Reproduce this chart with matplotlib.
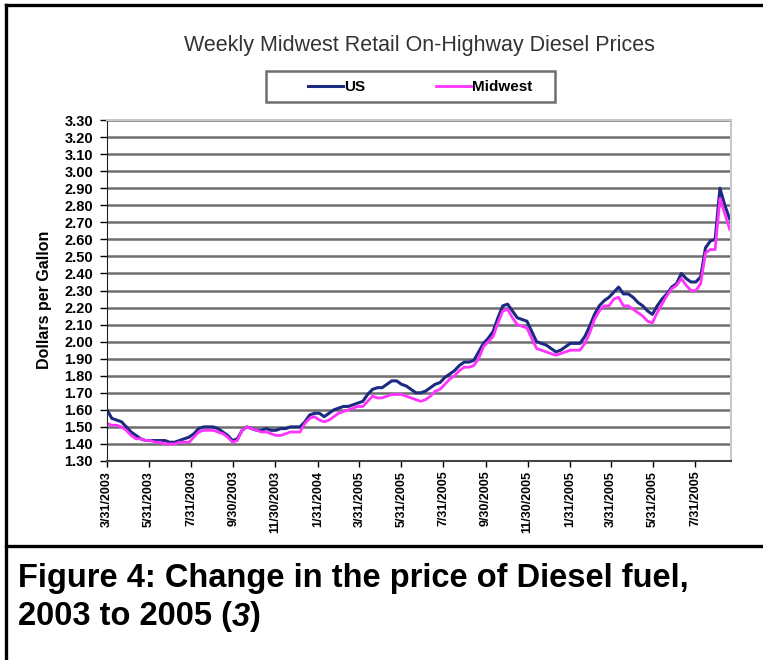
import matplotlib
matplotlib.use('Agg')
import matplotlib.pyplot as plt
import pandas as pd
from matplotlib.patches import Rectangle
from matplotlib.lines import Line2D

plt.rcParams['font.family'] = ['Liberation Sans', 'DejaVu Sans']

# weekly prices starting 3/31/2003
us_prices = [
    1.60, 1.55, 1.54, 1.53, 1.50, 1.47, 1.45, 1.43, 1.42, 1.42,
    1.42, 1.42, 1.42, 1.41, 1.41, 1.42, 1.43, 1.44, 1.46, 1.49,
    1.50, 1.50, 1.50, 1.49, 1.47, 1.45, 1.42, 1.43, 1.48, 1.50,
    1.49, 1.48, 1.48, 1.49, 1.48, 1.48, 1.49, 1.49, 1.50, 1.50,
    1.50, 1.53, 1.57, 1.58, 1.58, 1.56, 1.58, 1.60, 1.61, 1.62,
    1.62, 1.63, 1.64, 1.65, 1.69, 1.72, 1.73, 1.73, 1.75, 1.77,
    1.77, 1.75, 1.74, 1.72, 1.70, 1.70, 1.71, 1.73, 1.75, 1.76,
    1.79, 1.81, 1.83, 1.86, 1.88, 1.88, 1.89, 1.94, 1.99, 2.02,
    2.06, 2.14, 2.21, 2.22, 2.18, 2.14, 2.13, 2.12, 2.06, 2.00,
    1.99, 1.98, 1.96, 1.94, 1.95, 1.97, 1.99, 1.99, 1.99, 2.03,
    2.09, 2.16, 2.21, 2.24, 2.26, 2.29, 2.32, 2.28, 2.28, 2.26,
    2.23, 2.21, 2.18, 2.16, 2.21, 2.25, 2.28, 2.32, 2.34, 2.40,
    2.37, 2.35, 2.35, 2.38, 2.55, 2.59, 2.60, 2.90, 2.80, 2.72,
]
midwest_prices = [
    1.52, 1.51, 1.51, 1.50, 1.48, 1.45, 1.43, 1.43, 1.42, 1.42,
    1.41, 1.41, 1.40, 1.40, 1.40, 1.41, 1.41, 1.41, 1.44, 1.47,
    1.48, 1.48, 1.48, 1.47, 1.46, 1.44, 1.41, 1.42, 1.48, 1.50,
    1.49, 1.48, 1.47, 1.47, 1.46, 1.45, 1.45, 1.46, 1.47, 1.47,
    1.47, 1.52, 1.55, 1.56, 1.54, 1.53, 1.54, 1.56, 1.58, 1.59,
    1.60, 1.61, 1.62, 1.62, 1.65, 1.68, 1.67, 1.67, 1.68, 1.69,
    1.69, 1.69, 1.68, 1.67, 1.66, 1.65, 1.66, 1.68, 1.71, 1.72,
    1.75, 1.78, 1.80, 1.83, 1.85, 1.85, 1.86, 1.90, 1.97, 2.00,
    2.03, 2.11, 2.18, 2.19, 2.14, 2.10, 2.09, 2.08, 2.02, 1.96,
    1.95, 1.94, 1.93, 1.92, 1.93, 1.94, 1.95, 1.95, 1.95, 1.99,
    2.05, 2.13, 2.18, 2.21, 2.21, 2.25, 2.26, 2.21, 2.21, 2.19,
    2.17, 2.15, 2.12, 2.11, 2.17, 2.22, 2.27, 2.31, 2.33, 2.37,
    2.33, 2.30, 2.30, 2.34, 2.52, 2.54, 2.54, 2.84, 2.75, 2.66,
]

tick_dates = ['2003-03-31', '2003-05-31', '2003-07-31', '2003-09-30', '2003-11-30',
              '2004-01-31', '2004-03-31', '2004-05-31', '2004-07-31', '2004-09-30',
              '2004-11-30', '2005-01-31', '2005-03-31', '2005-05-31', '2005-07-31']
tick_labels = ['3/31/2003', '5/31/2003', '7/31/2003', '9/30/2003', '11/30/2003',
               '1/31/2004', '3/31/2005', '5/31/2005', '7/31/2005', '9/30/2005',
               '11/30/2005', '1/31/2005', '3/31/2005', '5/31/2005', '7/31/2005']
y_ticks = [1.30, 1.40, 1.50, 1.60, 1.70, 1.80, 1.90, 2.00, 2.10, 2.20, 2.30,
           2.40, 2.50, 2.60, 2.70, 2.80, 2.90, 3.00, 3.10, 3.20, 3.30]

W, H = 763, 660
fig = plt.figure(figsize=(W / 100, H / 100), dpi=100)
ax = fig.add_axes([107 / W, 1 - 461 / H, (731 - 107) / W, (461 - 120) / H])

week_dates = pd.date_range('2003-03-31', periods=len(us_prices), freq='7D')
ax.plot(week_dates, us_prices, color='#1c2a80', lw=2.2, label='US')
ax.plot(week_dates, midwest_prices, color='#ff33ff', lw=2.0, label='Midwest')

ax.set_ylim(1.30, 3.30)
ax.set_yticks(y_ticks)
ax.set_yticklabels([f'{v:.2f}' for v in y_ticks], fontsize=10.5, fontweight='bold')
ax.set_xlim(week_dates[0], week_dates[-1] + pd.Timedelta(days=2))
ax.set_xticks(pd.to_datetime(tick_dates))
ax.set_xticklabels(tick_labels, rotation=90, fontsize=9, fontweight='bold')
ax.yaxis.grid(True, color='#6e6e6e', lw=1.8)
ax.set_axisbelow(True)
ax.tick_params(axis='y', direction='out', length=5, width=1, pad=5)
ax.tick_params(axis='x', direction='out', length=4, width=1, pad=3)
ax.spines['left'].set_color('#222222')
ax.spines['bottom'].set_color('#444444')
ax.spines['bottom'].set_linewidth(1.5)
for s in ['top', 'right']:
    ax.spines[s].set_color('#c8c8c8')
    ax.spines[s].set_linewidth(1.5)

fig.text(45 / W, 1 - 300 / H, 'Dollars per Gallon', rotation=90, fontsize=11.5,
         fontweight='bold', ha='center', va='center')
fig.text(419 / W, 1 - 45 / H, 'Weekly Midwest Retail On-Highway Diesel Prices',
         fontsize=15.5, color='#333333', ha='center', va='center')

# legend box
fig.patches.append(Rectangle((266 / W, 1 - 102 / H), 289 / W, 31 / H,
                             transform=fig.transFigure, fill=False,
                             edgecolor='#6e6e6e', lw=1.8))
handles = [Line2D([], [], color='#1c2a80', lw=2.2), Line2D([], [], color='#ff33ff', lw=2.0)]
fig.legend(handles, ['US', 'Midwest'], loc='center left',
           bbox_to_anchor=(294 / W, 1 - 87 / H), ncol=2, frameon=False,
           handlelength=2.3, handletextpad=0.1, columnspacing=4.6,
           prop={'weight': 'bold', 'size': 11})

# outer frame and separator
for xs, ys in [([6, 6], [5, 660]), ([6, 763], [5, 5]), ([6, 763], [546, 546])]:
    fig.add_artist(Line2D([x / W for x in xs], [1 - y / H for y in ys],
                          transform=fig.transFigure, color='black', lw=2.4))

# caption
cap_size = 23.5
fig.text(18 / W, 1 - 578 / H, 'Figure 4: Change in the price of Diesel fuel,',
         fontsize=cap_size, fontweight='bold', va='center')
t1 = fig.text(18 / W, 1 - 617 / H, '2003 to 2005 (', fontsize=cap_size,
              fontweight='bold', va='center')
fig.canvas.draw()
r = fig.canvas.get_renderer()
x1 = t1.get_window_extent(r).x1 / W
t2 = fig.text(x1, 1 - 617 / H, '3', fontsize=cap_size, fontweight='bold',
              style='italic', va='center')
x2 = t2.get_window_extent(r).x1 / W
fig.text(x2, 1 - 617 / H, ')', fontsize=cap_size, fontweight='bold', va='center')

fig.savefig('out.png', dpi=100)
